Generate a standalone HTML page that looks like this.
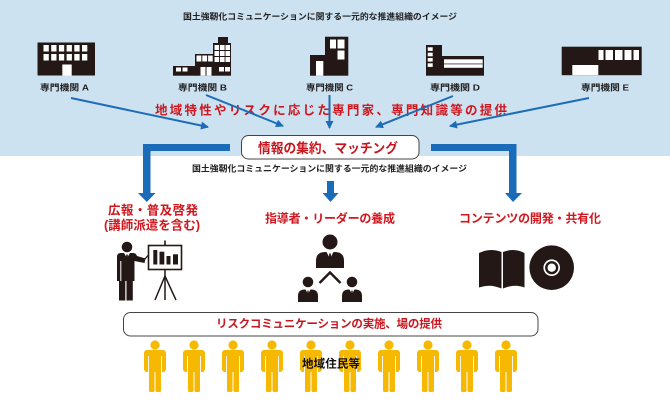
<!DOCTYPE html>
<html><head><meta charset="utf-8"><style>
html,body{margin:0;padding:0;background:#fff;}
svg{display:block;}
text{font-family:"Liberation Sans","Noto Sans CJK JP",sans-serif;font-weight:bold;}
</style></head><body>
<svg width="670" height="402" viewBox="0 0 670 402" xmlns="http://www.w3.org/2000/svg">
<defs>
<marker id="ah" markerWidth="9" markerHeight="9" refX="7" refY="4" orient="auto" markerUnits="userSpaceOnUse"><path d="M0,0 L8,4 L0,8 Z" fill="#1d6db6"/></marker>
<g id="yp">
<circle cx="0" cy="345" r="4.6"/>
<rect x="-11" y="350" width="22" height="22" rx="3"/>
<rect x="-6" y="368" width="5.5" height="24" rx="1.5"/>
<rect x="0.5" y="368" width="5.5" height="24" rx="1.5"/>
</g>
</defs>
<rect x="0" y="0" width="670" height="156" fill="#cde2f1"/>
<text x="183" y="19.5" font-size="8.6" fill="#222" textLength="274" lengthAdjust="spacingAndGlyphs">国土強靭化コミュニケーションに関する一元的な推進組織のイメージ</text>

<!-- Building A -->
<g fill="#231815">
<rect x="37.5" y="42.5" width="57.5" height="33"/>
</g>
<g fill="#fff">
<rect x="43.5" y="45" width="5.3" height="6.5"/><rect x="51.2" y="45" width="5.3" height="6.5"/><rect x="58.9" y="45" width="5.3" height="6.5"/><rect x="66.6" y="45" width="5.3" height="6.5"/><rect x="74.3" y="45" width="5.3" height="6.5"/><rect x="82" y="45" width="5.3" height="6.5"/>
<rect x="43.5" y="54" width="5.3" height="6.5"/><rect x="51.2" y="54" width="5.3" height="6.5"/><rect x="58.9" y="54" width="5.3" height="6.5"/><rect x="66.6" y="54" width="5.3" height="6.5"/><rect x="74.3" y="54" width="5.3" height="6.5"/><rect x="82" y="54" width="5.3" height="6.5"/>
<rect x="62.3" y="64.5" width="9.4" height="11"/>
</g>
<text x="40" y="90.5" font-size="8.6" fill="#222" textLength="49" lengthAdjust="spacingAndGlyphs">専門機関 A</text>

<!-- Building B -->
<g fill="#231815">
<rect x="173" y="66" width="23" height="9.7"/>
<rect x="195" y="54" width="18.5" height="21.7"/>
<rect x="213" y="43" width="18" height="32.7"/>
<rect x="218" y="37" width="10" height="6.5"/>
</g>
<g fill="#fff">
<rect x="176" y="67.5" width="5" height="4"/><rect x="182.5" y="67.5" width="5" height="4"/>
<rect x="196.5" y="55.5" width="4.8" height="6"/><rect x="202.3" y="55.5" width="4.8" height="6"/><rect x="208.1" y="55.5" width="4.6" height="6"/>
<rect x="200.5" y="67" width="5" height="8.7"/><rect x="206.5" y="67" width="5" height="8.7"/>
<rect x="214.5" y="45" width="4.6" height="5"/><rect x="220" y="45" width="4.6" height="5"/><rect x="225.5" y="45" width="4.5" height="5"/>
<rect x="214.5" y="51" width="4.6" height="5"/><rect x="220" y="51" width="4.6" height="5"/><rect x="225.5" y="51" width="4.5" height="5"/>
<rect x="214.5" y="57" width="4.6" height="5"/><rect x="220" y="57" width="4.6" height="5"/><rect x="225.5" y="57" width="4.5" height="5"/>
<rect x="219" y="67" width="5" height="4.5"/><rect x="225" y="67" width="5" height="4.5"/>
</g>
<text x="178" y="90.5" font-size="8.6" fill="#222" textLength="49" lengthAdjust="spacingAndGlyphs">専門機関 B</text>

<!-- Building C -->
<g fill="#231815">
<rect x="310" y="55" width="16" height="20.7"/>
<rect x="325" y="36.7" width="23.3" height="39"/>
</g>
<g fill="#fff">
<rect x="316" y="61" width="7.3" height="14.7"/>
<rect x="330" y="39.5" width="6" height="9"/>
<rect x="337.5" y="39.5" width="7" height="9"/>
<rect x="337.5" y="50.5" width="7" height="9"/>
</g>
<text x="306" y="90.5" font-size="8.6" fill="#222" textLength="47" lengthAdjust="spacingAndGlyphs">専門機関 C</text>

<!-- Building D -->
<g fill="#231815">
<rect x="426" y="45" width="16" height="30.7"/>
<rect x="441.5" y="56" width="42.5" height="19.7"/>
</g>
<g fill="#fff">
<rect x="427.7" y="47.3" width="5" height="3.6"/><rect x="427.7" y="52.7" width="5" height="3.6"/><rect x="427.7" y="58" width="5" height="3.6"/><rect x="427.7" y="63.3" width="5" height="3.6"/>
<rect x="444" y="59.3" width="38.7" height="8.5"/>
</g>
<rect x="444" y="63.3" width="38.7" height="1.2" fill="#777"/>
<text x="430" y="90.5" font-size="8.6" fill="#222" textLength="50" lengthAdjust="spacingAndGlyphs">専門機関 D</text>

<!-- Building E -->
<rect x="561.7" y="46.7" width="80" height="28.5" fill="#231815"/>
<g fill="#fff">
<rect x="598.5" y="50" width="5" height="10"/><rect x="605.5" y="50" width="7.5" height="10"/><rect x="615" y="50" width="7.5" height="10"/><rect x="624.5" y="50" width="7" height="10"/><rect x="633.5" y="50" width="5.5" height="10"/>
<rect x="572.3" y="65" width="26" height="10.2"/>
</g>
<text x="581" y="90.5" font-size="8.6" fill="#222" textLength="48" lengthAdjust="spacingAndGlyphs">専門機関 E</text>

<!-- red heading -->
<text x="155" y="114.5" font-size="12.5" fill="#d0161e" textLength="352" lengthAdjust="spacing">地域特性やリスクに応じた専門家、専門知識等の提供</text>

<!-- thin arrows -->
<g stroke="#1d6db6" stroke-width="2" fill="none" marker-end="url(#ah)">
<line x1="71" y1="98" x2="208" y2="127"/>
<line x1="206" y1="95" x2="283" y2="126"/>
<line x1="329.5" y1="95" x2="329.5" y2="128"/>
<line x1="453" y1="96" x2="376" y2="127"/>
<line x1="589" y1="98" x2="450" y2="126"/>
</g>

<!-- thick arrows -->
<g fill="#1a6bb8">
<path d="M230,144 L143,144 L143,193 L138,193 L146.8,202 L155.5,193 L150.5,193 L150.5,151 L230,151 Z"/>
<path d="M431,144 L516.5,144 L516.5,193 L522,193 L513,202 L505,193 L509,193 L509,151 L431,151 Z"/>
<path d="M327,181 L334,181 L334,193 L338.5,193 L330.5,202 L322.5,193 L327,193 Z"/>
</g>

<!-- center box -->
<rect x="241.5" y="135.5" width="177.5" height="23.5" rx="7" fill="#fff" stroke="#444" stroke-width="1"/>
<text x="258" y="153" font-size="13.5" fill="#c8161e" textLength="140" lengthAdjust="spacingAndGlyphs">情報の集約、マッチング</text>
<text x="192" y="171.3" font-size="8.6" fill="#222" textLength="275" lengthAdjust="spacingAndGlyphs">国土強靭化コミュニケーションに関する一元的な推進組織のイメージ</text>

<!-- section headings -->
<text x="108" y="214.5" font-size="12.5" fill="#d0161e" textLength="90" lengthAdjust="spacing">広報・普及啓発</text>
<text x="104" y="229.5" font-size="12.5" fill="#d0161e" textLength="96" lengthAdjust="spacingAndGlyphs">(講師派遣を含む)</text>
<text x="265" y="222.5" font-size="12" fill="#d0161e" textLength="130" lengthAdjust="spacing">指導者・リーダーの養成</text>
<text x="459" y="222.5" font-size="12" fill="#d0161e" textLength="142" lengthAdjust="spacing">コンテンツの開発・共有化</text>

<!-- presenter -->
<g fill="#231815">
<circle cx="127" cy="247" r="5.3"/>
<path d="M117,281 L117,257 Q117,253 121,253 L133,253 Q136,253 137,256 L145.5,258.5 L144.5,263 L134.5,261 L134.5,281 Z"/>
<rect x="119" y="279" width="6.3" height="21.5"/>
<rect x="126.5" y="279" width="6.3" height="21.5"/>
</g>
<line x1="120.8" y1="261" x2="120.8" y2="281" stroke="#fff" stroke-width="1"/>
<path d="M124,253 L127,258 L130,253 Z" fill="#fff"/>
<path d="M126.3,254.5 L127.7,254.5 L128.2,260 L127,262 L125.8,260 Z" fill="#231815"/>
<line x1="144.5" y1="259.5" x2="154.5" y2="248" stroke="#231815" stroke-width="1.3"/>
<rect x="148.5" y="245.5" width="33" height="24" fill="#fff" stroke="#231815" stroke-width="1.6"/>
<line x1="165" y1="240.5" x2="165" y2="245.5" stroke="#231815" stroke-width="1.6"/>
<g fill="#231815">
<rect x="153.3" y="250" width="4" height="14.5"/>
<rect x="159.5" y="251.7" width="4.8" height="12.8"/>
<rect x="166.5" y="256" width="4" height="8.5"/>
<rect x="173" y="254.3" width="5" height="10.2"/>
</g>
<g stroke="#231815" stroke-width="1.5" fill="none">
<line x1="165" y1="269.5" x2="165" y2="300"/>
<line x1="165" y1="276" x2="155" y2="300"/>
<line x1="165" y1="276" x2="176" y2="300"/>
</g>

<!-- group -->
<g fill="#231815">
<circle cx="330" cy="242" r="7.5"/>
<path d="M316,268 L316,261 Q316,252 325,252 L335,252 Q344,252 344,261 L344,268 Z"/>
<circle cx="308" cy="282" r="5.3"/>
<path d="M298,302 L298,296 Q298,289.5 305,289.5 L311,289.5 Q318,289.5 318,296 L318,302 Z"/>
<circle cx="352" cy="282" r="5.3"/>
<path d="M342,302 L342,296 Q342,289.5 349,289.5 L355,289.5 Q362,289.5 362,296 L362,302 Z"/>
</g>
<g fill="#fff">
<path d="M326.5,252 L330,258.5 L333.5,252 Z"/>
<path d="M305.5,289.5 L308,294 L310.5,289.5 Z"/>
<path d="M349.5,289.5 L352,294 L354.5,289.5 Z"/>
</g>
<g fill="#231815">
<path d="M329.2,253.5 L330.8,253.5 L331.3,261 L330,263 L328.7,261 Z"/>
<path d="M307.4,290.5 L308.6,290.5 L309,295.5 L308,297 L307,295.5 Z"/>
<path d="M351.4,290.5 L352.6,290.5 L353,295.5 L352,297 L351,295.5 Z"/>
</g>
<polyline points="319.5,283 330,272.5 340.5,283" fill="none" stroke="#231815" stroke-width="2.4"/>

<!-- book & cd -->
<g fill="#231815">
<path d="M479,253 Q490,247.5 501.5,252 L501.5,288.5 Q490,283.5 479,287.5 Z"/>
<path d="M503,252 Q514.5,247.5 524.5,253 L524.5,287.5 Q514.5,283.5 503,288.5 Z"/>
<circle cx="551.7" cy="267.7" r="22.3"/>
</g>
<circle cx="551.7" cy="267.7" r="8.3" fill="#fff"/>
<circle cx="551.7" cy="267.7" r="6.6" fill="#231815"/>
<circle cx="551.7" cy="267.7" r="4.2" fill="#fff"/>

<!-- bottom box -->
<rect x="123.5" y="312.5" width="414.5" height="23.5" rx="7" fill="#fff" stroke="#444" stroke-width="1"/>
<text x="216" y="327.3" font-size="11.5" fill="#c8161e" textLength="226" lengthAdjust="spacing">リスクコミュニケーションの実施、場の提供</text>

<!-- people -->
<g fill="#f6b800">
<use href="#yp" x="155"/><use href="#yp" x="194"/><use href="#yp" x="233"/><use href="#yp" x="272"/><use href="#yp" x="311"/>
<use href="#yp" x="350"/><use href="#yp" x="389"/><use href="#yp" x="428"/><use href="#yp" x="467"/><use href="#yp" x="506"/>
</g>
<g stroke="#fff" stroke-width="0.9">
<line x1="148.5" y1="356" x2="148.5" y2="372"/><line x1="161.5" y1="356" x2="161.5" y2="372"/>
<line x1="187.5" y1="356" x2="187.5" y2="372"/><line x1="200.5" y1="356" x2="200.5" y2="372"/>
<line x1="226.5" y1="356" x2="226.5" y2="372"/><line x1="239.5" y1="356" x2="239.5" y2="372"/>
<line x1="265.5" y1="356" x2="265.5" y2="372"/><line x1="278.5" y1="356" x2="278.5" y2="372"/>
<line x1="304.5" y1="356" x2="304.5" y2="372"/><line x1="317.5" y1="356" x2="317.5" y2="372"/>
<line x1="343.5" y1="356" x2="343.5" y2="372"/><line x1="356.5" y1="356" x2="356.5" y2="372"/>
<line x1="382.5" y1="356" x2="382.5" y2="372"/><line x1="395.5" y1="356" x2="395.5" y2="372"/>
<line x1="421.5" y1="356" x2="421.5" y2="372"/><line x1="434.5" y1="356" x2="434.5" y2="372"/>
<line x1="460.5" y1="356" x2="460.5" y2="372"/><line x1="473.5" y1="356" x2="473.5" y2="372"/>
<line x1="499.5" y1="356" x2="499.5" y2="372"/><line x1="512.5" y1="356" x2="512.5" y2="372"/>
</g>
<text x="302" y="367.3" font-size="11.5" fill="#111" textLength="58" lengthAdjust="spacing">地域住民等</text>
</svg>
</body></html>
